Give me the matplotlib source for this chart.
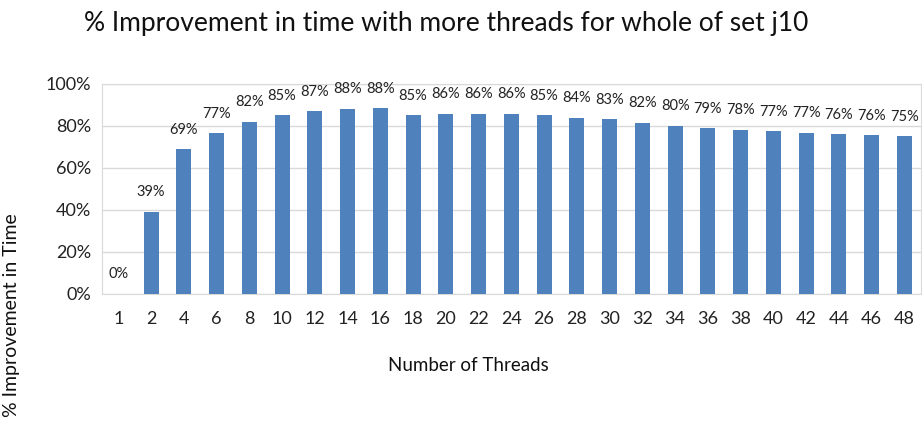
import numpy as np
import matplotlib
matplotlib.use('Agg')
import matplotlib.pyplot as plt
from matplotlib.ticker import FuncFormatter

threads = ['1', '2', '4', '6', '8', '10', '12', '14', '16', '18', '20', '22', '24',
           '26', '28', '30', '32', '34', '36', '38', '40', '42', '44', '46', '48']
improvement = [0, 39.2, 69.0, 76.4, 82.0, 85.0, 87.0, 88.2, 88.5, 85.2, 85.8, 85.9, 85.7,
               85.0, 83.8, 83.1, 81.6, 80.2, 78.8, 78.2, 77.4, 76.8, 76.0, 75.6, 75.0]
labels = ['0%', '39%', '69%', '77%', '82%', '85%', '87%', '88%', '88%', '85%', '86%', '86%', '86%',
          '85%', '84%', '83%', '82%', '80%', '79%', '78%', '77%', '77%', '76%', '76%', '75%']

plt.rcParams['font.family'] = ['Lato', 'DejaVu Sans']

fig = plt.figure(figsize=(9.22, 4.26), dpi=100)
ax = fig.add_axes([0.1106, 0.31, 0.888, 0.493])

x_pos = np.arange(len(threads))
ax.bar(x_pos, improvement, width=0.46, color='#4f81bd', zorder=3)
for x, v, lab in zip(x_pos, improvement, labels):
    ax.annotate(lab, (x, v), xytext=(0, 9), textcoords='offset points',
                ha='center', va='bottom', fontsize=10.5, color='#222222')

ax.set_xlim(-0.5, len(threads) - 0.5)
ax.set_ylim(0, 100)
ax.set_yticks(np.arange(0, 101, 20))
ax.yaxis.set_major_formatter(FuncFormatter(lambda v, p: '%d%%' % v))
ax.set_xticks(x_pos)
ax.set_xticklabels(threads)
ax.tick_params(axis='both', length=0, labelsize=13, colors='#222222')
ax.tick_params(axis='x', pad=12)
ax.tick_params(axis='y', pad=8)
ax.grid(axis='y', color='#d9d9d9', linewidth=1, zorder=0)
for s in ax.spines.values():
    s.set_color('#d9d9d9')

fig.text(0.484, 0.945, '% Improvement in time with more threads for whole of set j10',
         ha='center', va='center', fontsize=19, color='#111111')
fig.text(0.508, 0.143, 'Number of Threads', ha='center', va='center',
         fontsize=13.5, color='#111111')
fig.text(0.013, 0.26, '% Improvement in Time', ha='center', va='center',
         rotation=90, fontsize=14, color='#111111')

fig.savefig('out.png', dpi=100)
